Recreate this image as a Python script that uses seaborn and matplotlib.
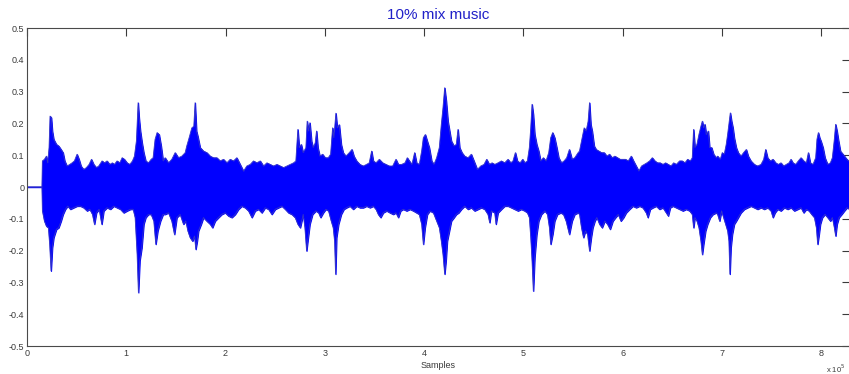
# waveform envelope of "10% mix music"
import numpy as np
import pandas as pd
import matplotlib
matplotlib.use("Agg")
import matplotlib.pyplot as plt
import seaborn as sns

# sample position in units of 1e5 samples, and the positive peak amplitude there
up_pos = [0.0, 0.150, 0.155, 0.175, 0.195, 0.208, 0.222, 0.232, 0.245, 0.255,
          0.269, 0.296, 0.319, 0.343, 0.363, 0.380, 0.403, 0.430, 0.454, 0.477,
          0.504, 0.524, 0.544, 0.571, 0.598, 0.625, 0.649, 0.672, 0.699, 0.722,
          0.756, 0.780, 0.806, 0.833, 0.860, 0.880, 0.907, 0.934, 0.958, 0.981,
          1.008, 1.035, 1.062, 1.082, 1.102, 1.119, 1.129, 1.142, 1.159, 1.176,
          1.196, 1.223, 1.250, 1.270, 1.290, 1.310, 1.331, 1.351, 1.371, 1.391,
          1.425, 1.458, 1.492, 1.525, 1.559, 1.593, 1.609, 1.633, 1.660, 1.680,
          1.693, 1.707, 1.720, 1.744, 1.777, 1.811, 1.845, 1.878, 1.912, 1.945,
          1.979, 2.013, 2.046, 2.080, 2.113, 2.147, 2.181, 2.214, 2.248, 2.281,
          2.315, 2.349, 2.382, 2.416, 2.449, 2.483, 2.517, 2.550, 2.584, 2.618,
          2.651, 2.685, 2.708, 2.728, 2.742, 2.762, 2.782, 2.809, 2.822, 2.836,
          2.849, 2.866, 2.883, 2.903, 2.916, 2.930, 2.950, 2.977, 3.004, 3.034,
          3.058, 3.078, 3.091, 3.111, 3.125, 3.145, 3.165, 3.185, 3.212, 3.246,
          3.273, 3.293, 3.320, 3.353, 3.387, 3.420, 3.447, 3.471, 3.488, 3.515,
          3.548, 3.582, 3.615, 3.649, 3.683, 3.716, 3.740, 3.773, 3.807, 3.830,
          3.851, 3.877, 3.904, 3.924, 3.951, 3.975, 3.992, 4.012, 4.032, 4.052,
          4.076, 4.099, 4.126, 4.153, 4.173, 4.190, 4.207, 4.223, 4.240, 4.257,
          4.274, 4.301, 4.324, 4.341, 4.358, 4.381, 4.408, 4.442, 4.475, 4.502,
          4.536, 4.570, 4.603, 4.630, 4.657, 4.684, 4.711, 4.744, 4.778, 4.811,
          4.845, 4.872, 4.895, 4.919, 4.939, 4.966, 4.993, 5.013, 5.040, 5.060,
          5.074, 5.087, 5.100, 5.114, 5.134, 5.154, 5.174, 5.201, 5.228, 5.255,
          5.275, 5.295, 5.315, 5.336, 5.356, 5.383, 5.410, 5.436, 5.463, 5.490,
          5.517, 5.551, 5.565, 5.592, 5.612, 5.632, 5.652, 5.666, 5.679, 5.693,
          5.713, 5.733, 5.760, 5.787, 5.814, 5.841, 5.867, 5.894, 5.921, 5.948,
          5.975, 6.002, 6.029, 6.056, 6.086, 6.109, 6.136, 6.163, 6.190, 6.217,
          6.244, 6.271, 6.298, 6.324, 6.351, 6.378, 6.405, 6.432, 6.459, 6.486,
          6.513, 6.540, 6.573, 6.600, 6.627, 6.654, 6.681, 6.701, 6.714, 6.728,
          6.748, 6.768, 6.788, 6.802, 6.815, 6.828, 6.842, 6.862, 6.876, 6.896,
          6.916, 6.943, 6.956, 6.983, 7.003, 7.023, 7.043, 7.057, 7.070, 7.084,
          7.097, 7.111, 7.124, 7.144, 7.164, 7.191, 7.218, 7.245, 7.265, 7.292,
          7.326, 7.359, 7.393, 7.420, 7.440, 7.460, 7.487, 7.514, 7.541, 7.568,
          7.594, 7.621, 7.648, 7.675, 7.695, 7.715, 7.742, 7.769, 7.796, 7.823,
          7.850, 7.870, 7.890, 7.917, 7.944, 7.957, 7.971, 7.984, 7.998, 8.018,
          8.038, 8.065, 8.092, 8.112, 8.132, 8.145, 8.159, 8.172, 8.193, 8.219,
          8.246, 8.273, 8.287]
up_amp = [0.0, 0.0, 0.082, 0.087, 0.097, 0.076, 0.124, 0.223, 0.218, 0.176,
          0.150, 0.134, 0.129, 0.118, 0.108, 0.082, 0.066, 0.071, 0.076, 0.082,
          0.103, 0.087, 0.066, 0.055, 0.061, 0.071, 0.087, 0.071, 0.061, 0.066,
          0.082, 0.076, 0.082, 0.071, 0.076, 0.071, 0.082, 0.076, 0.092, 0.087,
          0.076, 0.071, 0.082, 0.097, 0.145, 0.265, 0.218, 0.176, 0.139, 0.108,
          0.082, 0.076, 0.087, 0.092, 0.150, 0.171, 0.165, 0.129, 0.082, 0.092,
          0.076, 0.087, 0.108, 0.092, 0.097, 0.108, 0.129, 0.155, 0.186, 0.191,
          0.265, 0.176, 0.160, 0.124, 0.113, 0.108, 0.097, 0.092, 0.092, 0.082,
          0.087, 0.076, 0.087, 0.082, 0.092, 0.071, 0.050, 0.066, 0.071, 0.082,
          0.076, 0.082, 0.066, 0.076, 0.071, 0.066, 0.071, 0.066, 0.061, 0.066,
          0.071, 0.076, 0.082, 0.181, 0.124, 0.134, 0.108, 0.124, 0.207, 0.176,
          0.202, 0.144, 0.124, 0.139, 0.176, 0.124, 0.097, 0.103, 0.092, 0.092,
          0.103, 0.186, 0.155, 0.232, 0.186, 0.196, 0.134, 0.108, 0.097, 0.108,
          0.118, 0.097, 0.082, 0.071, 0.066, 0.071, 0.076, 0.113, 0.082, 0.076,
          0.087, 0.076, 0.071, 0.066, 0.066, 0.087, 0.071, 0.071, 0.076, 0.092,
          0.082, 0.071, 0.108, 0.076, 0.071, 0.113, 0.155, 0.165, 0.144, 0.124,
          0.082, 0.071, 0.092, 0.124, 0.196, 0.249, 0.312, 0.270, 0.207, 0.176,
          0.145, 0.129, 0.134, 0.181, 0.124, 0.108, 0.097, 0.092, 0.103, 0.082,
          0.055, 0.066, 0.071, 0.087, 0.071, 0.076, 0.071, 0.076, 0.082, 0.076,
          0.087, 0.076, 0.082, 0.108, 0.082, 0.076, 0.087, 0.076, 0.082, 0.124,
          0.186, 0.260, 0.228, 0.166, 0.134, 0.113, 0.082, 0.092, 0.082, 0.108,
          0.155, 0.171, 0.155, 0.124, 0.092, 0.076, 0.082, 0.092, 0.118, 0.087,
          0.092, 0.108, 0.113, 0.155, 0.186, 0.176, 0.207, 0.265, 0.197, 0.176,
          0.129, 0.118, 0.113, 0.108, 0.108, 0.097, 0.103, 0.092, 0.097, 0.092,
          0.087, 0.087, 0.087, 0.082, 0.097, 0.082, 0.066, 0.050, 0.066, 0.071,
          0.076, 0.082, 0.092, 0.082, 0.076, 0.076, 0.071, 0.076, 0.071, 0.066,
          0.076, 0.071, 0.082, 0.082, 0.076, 0.087, 0.082, 0.092, 0.181, 0.124,
          0.134, 0.165, 0.191, 0.207, 0.186, 0.197, 0.165, 0.176, 0.124, 0.124,
          0.103, 0.092, 0.097, 0.087, 0.108, 0.103, 0.134, 0.165, 0.197, 0.233,
          0.207, 0.186, 0.155, 0.124, 0.108, 0.097, 0.108, 0.118, 0.097, 0.082,
          0.071, 0.066, 0.071, 0.087, 0.118, 0.092, 0.082, 0.087, 0.076, 0.071,
          0.076, 0.066, 0.071, 0.076, 0.087, 0.076, 0.071, 0.082, 0.092, 0.082,
          0.076, 0.108, 0.076, 0.071, 0.092, 0.150, 0.171, 0.155, 0.144, 0.124,
          0.092, 0.071, 0.076, 0.092, 0.150, 0.197, 0.176, 0.150, 0.113, 0.103,
          0.092, 0.082, 0.087]

# same for the negative peaks
lo_pos = [0.0, 0.150, 0.155, 0.175, 0.195, 0.215, 0.228, 0.242, 0.255, 0.269,
          0.296, 0.319, 0.343, 0.363, 0.386, 0.410, 0.437, 0.470, 0.504, 0.538,
          0.571, 0.605, 0.632, 0.659, 0.679, 0.699, 0.726, 0.753, 0.773, 0.806,
          0.840, 0.874, 0.907, 0.941, 0.974, 1.008, 1.042, 1.069, 1.089, 1.109,
          1.122, 1.136, 1.156, 1.176, 1.196, 1.223, 1.250, 1.277, 1.297, 1.317,
          1.344, 1.371, 1.391, 1.425, 1.458, 1.485, 1.509, 1.542, 1.576, 1.599,
          1.620, 1.643, 1.667, 1.687, 1.700, 1.714, 1.727, 1.754, 1.777, 1.811,
          1.845, 1.868, 1.895, 1.929, 1.962, 1.996, 2.029, 2.063, 2.097, 2.130,
          2.164, 2.197, 2.231, 2.265, 2.298, 2.332, 2.365, 2.399, 2.433, 2.466,
          2.500, 2.533, 2.567, 2.601, 2.634, 2.668, 2.701, 2.728, 2.752, 2.782,
          2.799, 2.816, 2.832, 2.849, 2.876, 2.910, 2.937, 2.957, 2.984, 3.010,
          3.037, 3.064, 3.084, 3.098, 3.108, 3.118, 3.138, 3.165, 3.192, 3.219,
          3.252, 3.286, 3.320, 3.353, 3.387, 3.420, 3.454, 3.488, 3.515, 3.538,
          3.562, 3.588, 3.622, 3.656, 3.689, 3.716, 3.740, 3.763, 3.790, 3.824,
          3.857, 3.891, 3.924, 3.951, 3.975, 3.992, 4.009, 4.032, 4.059, 4.093,
          4.126, 4.153, 4.173, 4.190, 4.207, 4.220, 4.233, 4.254, 4.274, 4.301,
          4.324, 4.348, 4.375, 4.408, 4.442, 4.475, 4.509, 4.543, 4.576, 4.610,
          4.643, 4.660, 4.677, 4.711, 4.724, 4.744, 4.778, 4.811, 4.845, 4.879,
          4.912, 4.946, 4.979, 5.013, 5.040, 5.060, 5.074, 5.087, 5.100, 5.114,
          5.134, 5.154, 5.181, 5.215, 5.242, 5.262, 5.275, 5.295, 5.315, 5.342,
          5.376, 5.403, 5.430, 5.463, 5.490, 5.517, 5.551, 5.565, 5.585, 5.605,
          5.625, 5.646, 5.666, 5.683, 5.699, 5.720, 5.740, 5.767, 5.793, 5.820,
          5.847, 5.874, 5.901, 5.928, 5.955, 5.982, 6.009, 6.035, 6.069, 6.103,
          6.136, 6.170, 6.203, 6.237, 6.254, 6.277, 6.304, 6.338, 6.371, 6.405,
          6.439, 6.459, 6.479, 6.506, 6.540, 6.573, 6.607, 6.640, 6.674, 6.701,
          6.714, 6.728, 6.748, 6.768, 6.788, 6.802, 6.815, 6.835, 6.855, 6.882,
          6.909, 6.943, 6.956, 6.976, 6.996, 7.016, 7.037, 7.057, 7.070, 7.080,
          7.090, 7.104, 7.124, 7.144, 7.164, 7.191, 7.225, 7.258, 7.292, 7.326,
          7.359, 7.393, 7.426, 7.460, 7.494, 7.514, 7.534, 7.561, 7.594, 7.628,
          7.662, 7.695, 7.729, 7.763, 7.796, 7.823, 7.850, 7.877, 7.904, 7.931,
          7.951, 7.964, 7.978, 7.991, 8.011, 8.038, 8.065, 8.092, 8.112, 8.132,
          8.145, 8.159, 8.179, 8.206, 8.233, 8.260, 8.287]
lo_amp = [0.0, 0.0, -0.075, -0.107, -0.123, -0.128, -0.180, -0.264, -0.191, -0.159,
          -0.133, -0.128, -0.107, -0.086, -0.070, -0.060, -0.070, -0.065, -0.060, -0.060,
          -0.065, -0.075, -0.070, -0.086, -0.117, -0.081, -0.070, -0.117, -0.075, -0.065,
          -0.070, -0.060, -0.065, -0.070, -0.081, -0.075, -0.070, -0.070, -0.096, -0.212,
          -0.332, -0.232, -0.191, -0.117, -0.096, -0.086, -0.086, -0.107, -0.180, -0.138,
          -0.107, -0.086, -0.086, -0.081, -0.107, -0.149, -0.096, -0.086, -0.117, -0.107,
          -0.138, -0.159, -0.170, -0.154, -0.196, -0.170, -0.138, -0.117, -0.096, -0.107,
          -0.117, -0.128, -0.107, -0.096, -0.086, -0.081, -0.091, -0.096, -0.086, -0.070,
          -0.060, -0.065, -0.075, -0.096, -0.075, -0.070, -0.081, -0.065, -0.070, -0.086,
          -0.070, -0.065, -0.060, -0.070, -0.081, -0.086, -0.096, -0.117, -0.128, -0.086,
          -0.128, -0.201, -0.159, -0.117, -0.086, -0.075, -0.081, -0.096, -0.081, -0.070,
          -0.075, -0.107, -0.128, -0.170, -0.274, -0.159, -0.117, -0.086, -0.070, -0.065,
          -0.060, -0.070, -0.060, -0.065, -0.065, -0.060, -0.065, -0.060, -0.070, -0.086,
          -0.096, -0.081, -0.075, -0.081, -0.086, -0.081, -0.096, -0.075, -0.070, -0.075,
          -0.070, -0.075, -0.081, -0.086, -0.117, -0.180, -0.128, -0.086, -0.075, -0.081,
          -0.107, -0.128, -0.170, -0.212, -0.274, -0.232, -0.170, -0.138, -0.107, -0.096,
          -0.086, -0.081, -0.070, -0.060, -0.070, -0.065, -0.075, -0.070, -0.065, -0.070,
          -0.086, -0.112, -0.075, -0.081, -0.117, -0.081, -0.070, -0.060, -0.060, -0.065,
          -0.070, -0.075, -0.070, -0.075, -0.081, -0.096, -0.159, -0.232, -0.327, -0.222,
          -0.149, -0.107, -0.086, -0.075, -0.086, -0.128, -0.180, -0.149, -0.107, -0.086,
          -0.081, -0.086, -0.107, -0.149, -0.107, -0.086, -0.081, -0.086, -0.128, -0.159,
          -0.138, -0.149, -0.201, -0.159, -0.128, -0.107, -0.096, -0.117, -0.128, -0.107,
          -0.117, -0.133, -0.107, -0.096, -0.086, -0.107, -0.096, -0.081, -0.070, -0.060,
          -0.065, -0.060, -0.065, -0.081, -0.096, -0.070, -0.065, -0.060, -0.070, -0.065,
          -0.081, -0.091, -0.065, -0.060, -0.065, -0.070, -0.075, -0.070, -0.075, -0.086,
          -0.128, -0.096, -0.107, -0.128, -0.170, -0.212, -0.180, -0.138, -0.117, -0.096,
          -0.086, -0.081, -0.086, -0.107, -0.075, -0.096, -0.117, -0.138, -0.170, -0.274,
          -0.191, -0.149, -0.117, -0.107, -0.096, -0.081, -0.070, -0.065, -0.060, -0.065,
          -0.070, -0.065, -0.070, -0.065, -0.075, -0.096, -0.081, -0.070, -0.075, -0.065,
          -0.070, -0.065, -0.075, -0.070, -0.065, -0.081, -0.070, -0.075, -0.086, -0.096,
          -0.128, -0.180, -0.149, -0.117, -0.096, -0.086, -0.096, -0.107, -0.096, -0.128,
          -0.154, -0.117, -0.096, -0.086, -0.075, -0.065, -0.070]

x_ticks = [0, 1, 2, 3, 4, 5, 6, 7, 8]
y_ticks = [-0.5, -0.4, -0.3, -0.2, -0.1, 0, 0.1, 0.2, 0.3, 0.4, 0.5]
y_labels = ["-0.5", "-0.4", "-0.3", "-0.2", "-0.1", "0", "0.1", "0.2", "0.3", "0.4", "0.5"]

up = pd.DataFrame({"sample": np.array(up_pos) * 1e5, "amp": up_amp})
lo = pd.DataFrame({"sample": np.array(lo_pos) * 1e5, "amp": lo_amp})

sns.set_theme(style="white")
plt.rcParams["font.family"] = ["Liberation Sans", "DejaVu Sans"]

fig = plt.figure(figsize=(8.49, 3.74), dpi=100)
ax = fig.add_axes([27 / 849, 28 / 374, 823 / 849, 318 / 374])

# solid blue body of the waveform (edge drawn too, so no seam shows at zero)
ax.fill_between(up["sample"], up["amp"], 0, facecolor="#0000ff",
                edgecolor="#0000ff", lw=0.8)
ax.fill_between(lo["sample"], lo["amp"], 0, facecolor="#0000ff",
                edgecolor="#0000ff", lw=0.8)
sns.lineplot(data=up, x="sample", y="amp", ax=ax, color="#3434c8",
             lw=0.6, estimator=None, sort=False)
sns.lineplot(data=lo, x="sample", y="amp", ax=ax, color="#3434c8",
             lw=0.6, estimator=None, sort=False)

ax.set_xlim(0, 8.29e5)
ax.set_ylim(-0.5, 0.5)
ax.set_xticks(np.array(x_ticks) * 1e5)
ax.set_xticklabels([str(t) for t in x_ticks])
ax.set_yticks(y_ticks)
ax.set_yticklabels(y_labels)
ax.tick_params(direction="in", length=6, width=0.8, top=True, right=True,
               labelsize=6.5, colors="#3a3a3a", pad=2)
for s in ax.spines.values():
    s.set_visible(True)
    s.set_color("#4a4a4a")
    s.set_linewidth(0.8)

ax.set_xlabel("Samples", fontsize=6.5, color="#3a3a3a", labelpad=2)
ax.set_ylabel("")
ax.set_title("10% mix music", color="#2020c8", fontsize=11, pad=6.5)
fig.text(826 / 849, 1 - 369 / 374, "x 10$^5$", fontsize=5.5, color="#3a3a3a",
         ha="left", va="center")

fig.savefig("out.png", dpi=100, facecolor="white")
